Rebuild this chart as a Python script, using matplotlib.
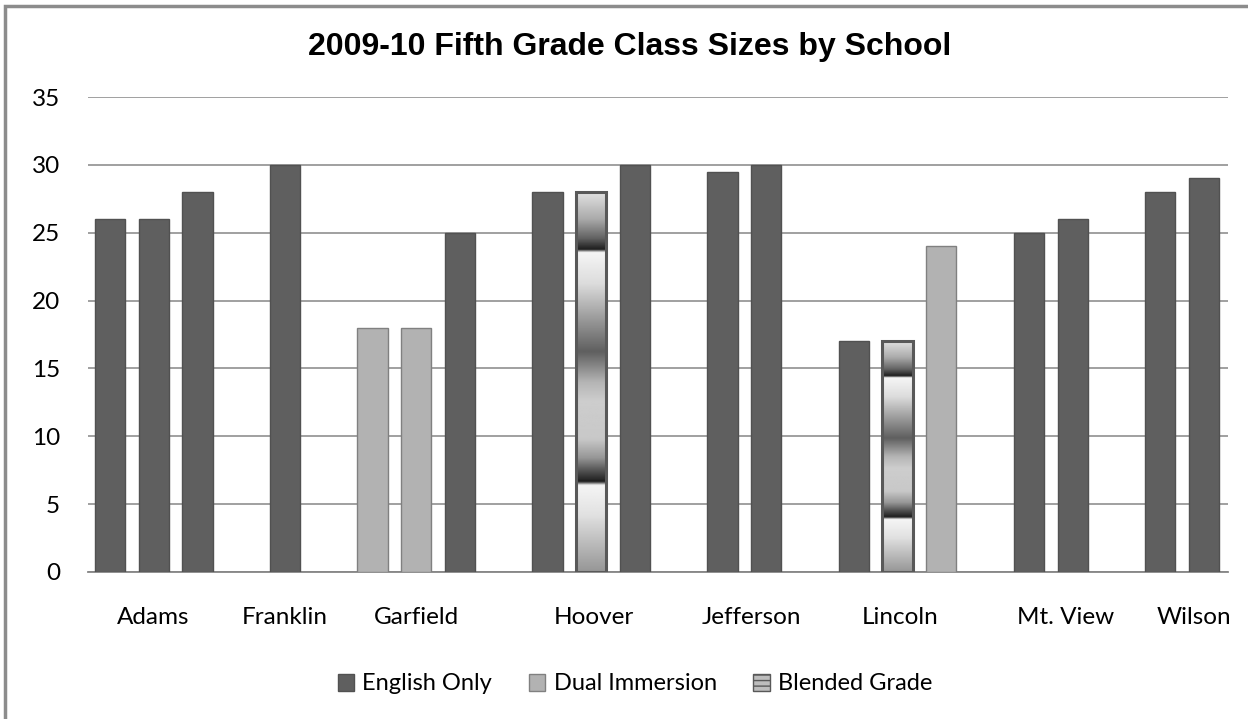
import numpy as np
import matplotlib.pyplot as plt
from matplotlib.patches import Patch, Rectangle

# one list entry per school; each inner list is that school's fifth grade classes
schools = ['Adams', 'Franklin', 'Garfield', 'Hoover', 'Jefferson', 'Lincoln', 'Mt. View', 'Wilson']
programs = [['E', 'E', 'E'], ['E'], ['D', 'D', 'E'], ['E', 'B', 'E'],
            ['E', 'E'], ['E', 'B', 'D'], ['E', 'E'], ['E', 'E']]
sizes = [[26, 26, 28], [30], [18, 18, 25], [28, 28, 30],
         [29.5, 30], [17, 17, 24], [25, 26], [28, 29]]
program_names = {'E': 'English Only', 'D': 'Dual Immersion', 'B': 'Blended Grade'}
yticks = [0, 5, 10, 15, 20, 25, 30, 35]
# small nudges of the school labels, in class slots
label_shift = [0, 0, 0, 0.07, 0.16, 0.05, 0.34, 0.27]

dark = '#5f5f5f'
light = '#b2b2b2'
grid_col = '#868686'

# shading of the blended bars, top (0) to bottom (1)
shade_t = [0, .07, .12, .150, .158, .24, .34, .42, .50, .55, .65, .70, .73, .762, .772, .85, .93, 1]
shade_v = [225, 170, 100, 30, 245, 220, 150, 95, 180, 205, 200, 150, 90, 30, 245, 225, 185, 150]
shade = np.interp(np.linspace(0, 1, 500), shade_t, shade_v)[:, None] / 255.0

plt.rcParams['font.family'] = ['Lato', 'DejaVu Sans']

fig = plt.figure(figsize=(12.48, 7.19), dpi=100)
ax = fig.add_axes([88 / 1248, 1 - 572 / 719, (1228 - 88) / 1248, (572 - 97) / 719])

# chart border (only the left and top edges are inside the picture)
fig.patches.append(Rectangle((5 / 1248, -0.2), 1.5, 1.2 - 6 / 719, transform=fig.transFigure,
                             fill=False, edgecolor='#8c8c8c', linewidth=2.5))

width = 0.69
slot = 0
label_pos = []
for progs, vals, shift in zip(programs, sizes, label_shift):
    pos = list(range(slot, slot + len(vals)))
    label_pos.append(np.mean(pos) + shift)
    for x, p, v in zip(pos, progs, vals):
        if p == 'E':
            ax.bar(x, v, width, color=dark, edgecolor='#515151', linewidth=1, zorder=3)
        elif p == 'D':
            ax.bar(x, v, width, color=light, edgecolor='#808080', linewidth=1, zorder=3)
        else:
            b = ax.bar(x, v, width, facecolor='none', edgecolor='#595959', linewidth=2.2, zorder=4)[0]
            im = ax.imshow(shade, cmap='gray', vmin=0, vmax=1, aspect='auto',
                           extent=(x - width / 2, x + width / 2, 0, v),
                           interpolation='bilinear', zorder=3)
            im.set_clip_path(b)
    slot += len(vals) + 1

ax.set_xlim(-0.5, slot - 1.45)
ax.set_ylim(0, 35)
ax.set_yticks(yticks)
ax.set_xticks(label_pos)
ax.set_xticklabels(schools)
ax.yaxis.grid(True, color=grid_col, linewidth=1.1)
ax.set_axisbelow(True)
for s in ['left', 'right', 'top']:
    ax.spines[s].set_visible(False)
ax.spines['bottom'].set_color(grid_col)
ax.spines['bottom'].set_linewidth(1.3)
ax.tick_params(axis='both', length=0, labelsize=17.5, colors='#000000')
ax.tick_params(axis='x', pad=25.5)
ax.tick_params(axis='y', pad=20)

fig.text(630 / 1248, 1 - 47 / 719, '2009-10 Fifth Grade Class Sizes by School',
         ha='center', va='center', fontsize=23, fontweight='bold', family='Liberation Sans')

handles = [Patch(facecolor=dark, edgecolor='#515151', label=program_names['E']),
           Patch(facecolor=light, edgecolor='#808080', label=program_names['D']),
           Patch(facecolor='#bdbdbd', edgecolor='#595959', hatch='---', label=program_names['B'])]
fig.legend(handles=handles, loc='center', bbox_to_anchor=(635 / 1248, 1 - 684 / 719), ncol=3,
           frameon=False, fontsize=17, handlelength=0.7, handleheight=0.7,
           handletextpad=0.35, columnspacing=1.55)

fig.savefig('out.png', dpi=100, facecolor='white')
